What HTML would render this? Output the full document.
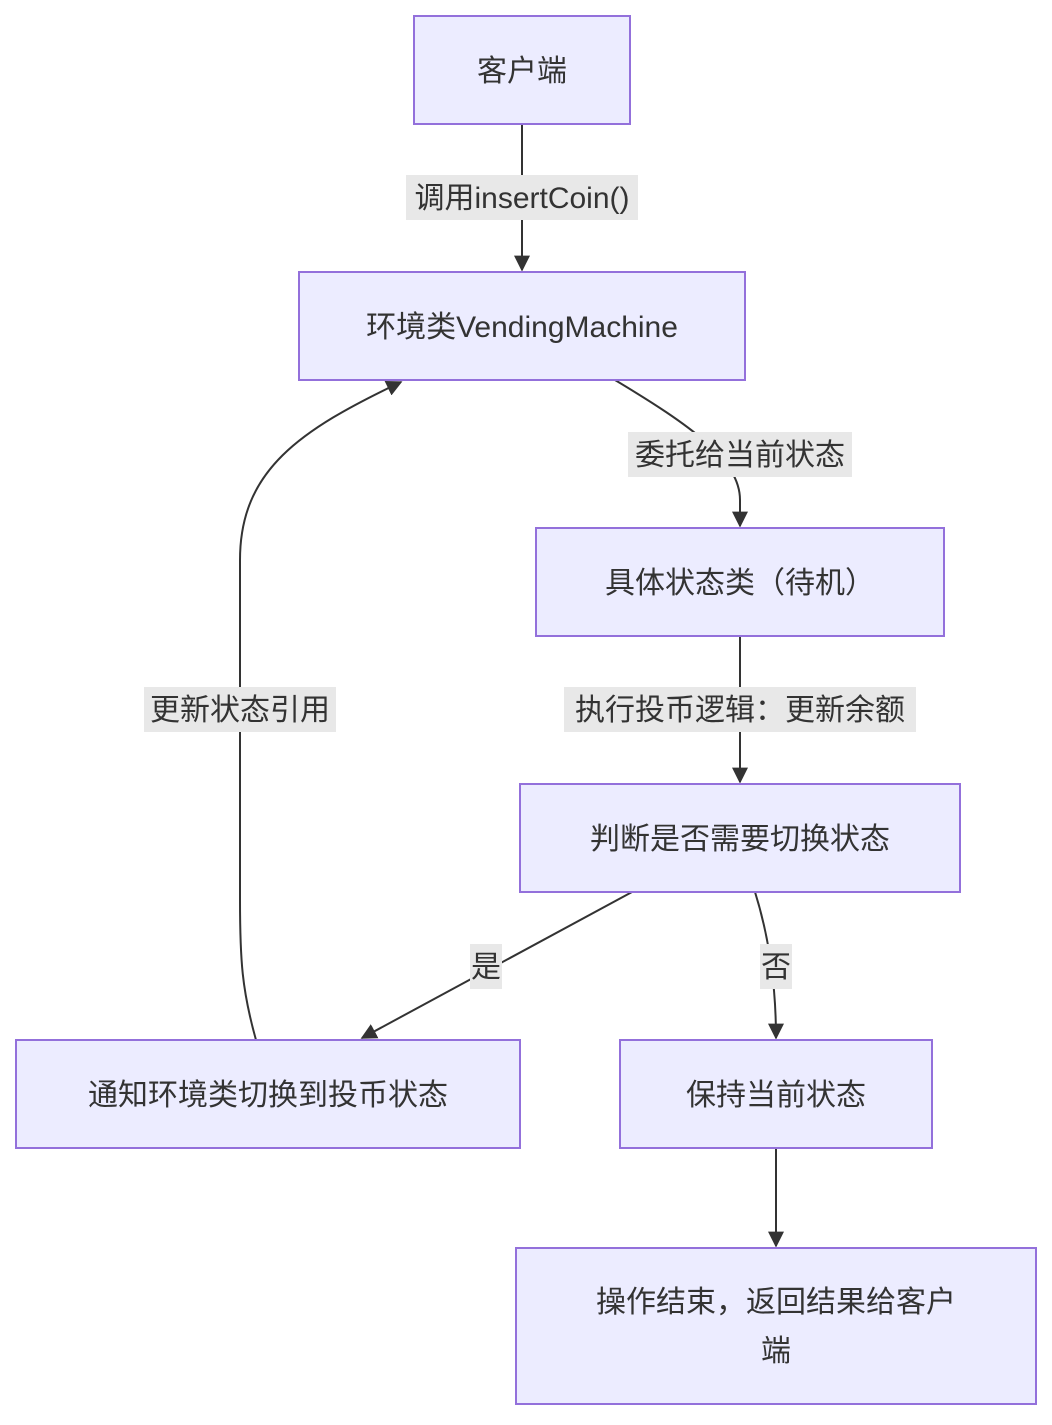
<!DOCTYPE html>
<html><head><meta charset="utf-8"><style>
html,body{margin:0;padding:0;background:#fff;}
text{font-family:"Liberation Sans","Noto Sans CJK SC",sans-serif;font-size:30px;fill:#333;}
.n{fill:#ECECFF;stroke:#9370DB;stroke-width:2;}
.e{fill:none;stroke:#333;stroke-width:2;}
.lb{fill:#e8e8e8;}
</style></head><body>
<svg width="1052" height="1420" xmlns="http://www.w3.org/2000/svg">
<defs><marker id="a" viewBox="0 0 10 10" refX="9" refY="5" markerWidth="8" markerHeight="8" orient="auto" markerUnits="userSpaceOnUse"><path d="M0,0L10,5L0,10z" fill="#333" transform="scale(1)"/></marker>
<marker id="b" viewBox="0 0 10 10" refX="9" refY="5" markerWidth="16" markerHeight="16" orient="auto" markerUnits="userSpaceOnUse"><path d="M0,0L10,5L0,10z" fill="#333"/></marker></defs>
<!-- edges -->
<path class="e" d="M522,124L522,270" marker-end="url(#b)"/>
<path class="e" d="M615,380C690,425 740,460 740,500L740,526" marker-end="url(#b)"/>
<path class="e" d="M740,636L740,782" marker-end="url(#b)"/>
<path class="e" d="M632,892L362,1038" marker-end="url(#b)"/>
<path class="e" d="M755,892C770,940 776,990 776,1038" marker-end="url(#b)"/>
<path class="e" d="M776,1148L776,1246" marker-end="url(#b)"/>
<path class="e" d="M256,1040C242,990 240,960 240,900L240,560C240,470 300,430 401,382" marker-end="url(#b)"/>
<!-- labels -->
<rect class="lb" x="406" y="175" width="232" height="45"/><text x="522" y="208" text-anchor="middle">调用insertCoin()</text>
<rect class="lb" x="628" y="432" width="224" height="45"/><text x="740" y="465" text-anchor="middle">委托给当前状态</text>
<rect class="lb" x="564" y="687" width="352" height="45"/><text x="740" y="720" text-anchor="middle">执行投币逻辑：更新余额</text>
<rect class="lb" x="144" y="687" width="192" height="45"/><text x="240" y="720" text-anchor="middle">更新状态引用</text>
<rect class="lb" x="470" y="944" width="32" height="45"/><text x="486" y="977" text-anchor="middle">是</text>
<rect class="lb" x="760" y="944" width="32" height="45"/><text x="776" y="977" text-anchor="middle">否</text>
<!-- nodes -->
<rect class="n" x="414" y="16" width="216" height="108"/><text x="522" y="81" text-anchor="middle">客户端</text>
<rect class="n" x="299" y="272" width="446" height="108"/><text x="522" y="337" text-anchor="middle">环境类VendingMachine</text>
<rect class="n" x="536" y="528" width="408" height="108"/><text x="740" y="593" text-anchor="middle">具体状态类（待机）</text>
<rect class="n" x="520" y="784" width="440" height="108"/><text x="740" y="849" text-anchor="middle">判断是否需要切换状态</text>
<rect class="n" x="16" y="1040" width="504" height="108"/><text x="268" y="1105" text-anchor="middle">通知环境类切换到投币状态</text>
<rect class="n" x="620" y="1040" width="312" height="108"/><text x="776" y="1105" text-anchor="middle">保持当前状态</text>
<rect class="n" x="516" y="1248" width="520" height="156"/><text x="776" y="1312" text-anchor="middle">操作结束，返回结果给客户</text><text x="776" y="1361" text-anchor="middle">端</text>
</svg>
</body></html>
